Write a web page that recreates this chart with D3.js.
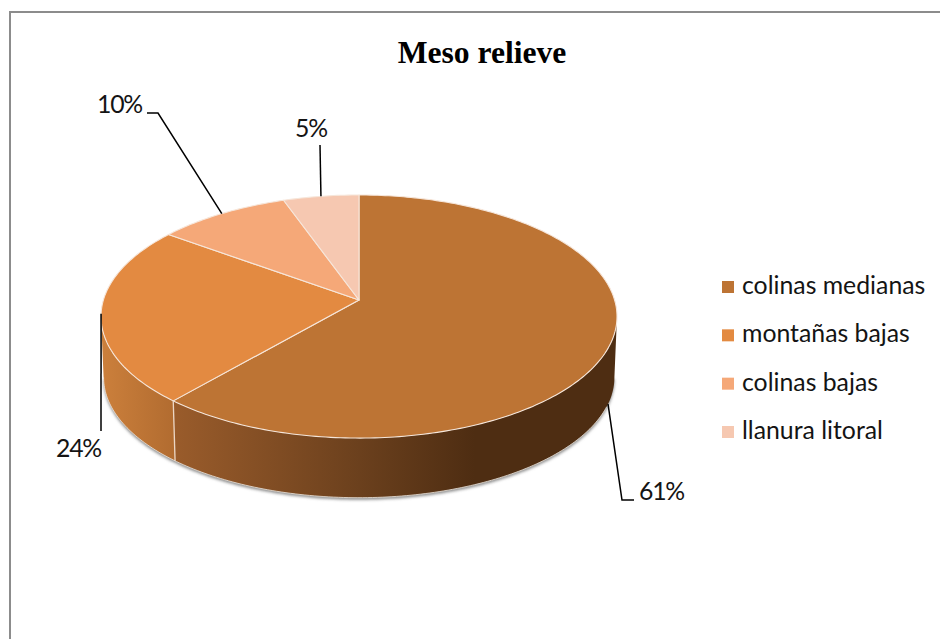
<!DOCTYPE html>
<html>
<head>
    <meta charset="utf-8">
    <script src="https://cdnjs.cloudflare.com/ajax/libs/d3/7.8.5/d3.min.js"></script>
    <style type="text/css">
        html, body { margin: 0; padding: 0; background: white; }
        svg { display: block; }
        .title { font-family: "Liberation Serif"; font-weight: bold; font-size: 31.6px; fill: black; text-anchor: middle; }
        .pct, .legend text { font-family: Lato; font-size: 24.8px; fill: #141414; }
        .pct { letter-spacing: -1.2px; }
        .leader { fill: none; stroke: black; stroke-width: 1.5; }
    </style>
</head>
<body>
    <div id="chart"></div>
    <script type="text/javascript">
        var categories = ["colinas medianas", "montañas bajas", "colinas bajas", "llanura litoral"];
        var values = [61.3, 23.8, 9.5, 5.4];
        var labels = ["61%", "24%", "10%", "5%"];
        var colors = ["#bd7434", "#e38a41", "#f5a878", "#f6c8b1"];

        var width = 940, height = 639;
        var cx = 359;

        // pie is a flat disc seen in perspective, apex sits above the ellipse middle
        var k = 0.136, rx = 255.6, ry = 119.3;
        var topY = 300, baseY = 361, baseScale = 0.99;

        // angles where the disc is widest, the wall is only visible between them
        var wallStart = Math.PI / 2 + Math.asin(k);
        var wallEnd = Math.PI * 1.5 - Math.asin(k);

        function project(a, base) {
            var u = Math.sin(a), v = -Math.cos(a), w = 1 - k * v;
            var s = base ? baseScale : 1;
            return [cx + s * rx * u / w, (base ? baseY : topY) + s * ry * v / w];
        }

        function rim(a0, a1, base) {
            var n = Math.max(2, Math.ceil(Math.abs(a1 - a0) * 60));
            return d3.range(n + 1).map(function (i) {
                return project(a0 + (a1 - a0) * i / n, base);
            });
        }

        var line = d3.line();
        var arcs = d3.pie().sort(null)(values);

        var svg = d3.select("#chart").append("svg")
            .attr("width", width)
            .attr("height", height);

        var defs = svg.append("defs");

        defs.append("filter").attr("id", "soft")
            .attr("x", "-5%").attr("y", "-5%").attr("width", "110%").attr("height", "110%")
            .append("feGaussianBlur").attr("stdDeviation", 1.6);

        function wallGradient(id, stops) {
            var g = defs.append("linearGradient").attr("id", id)
                .attr("gradientUnits", "userSpaceOnUse")
                .attr("x1", 100).attr("x2", 620).attr("y1", 0).attr("y2", 0);
            stops.forEach(function (s) {
                g.append("stop").attr("offset", s[0]).attr("stop-color", s[1]);
            });
        }
        wallGradient("wall0", [[0.14, "#9a5c2b"], [0.5, "#6b401d"], [0.72, "#4e2d12"], [1, "#4e2d12"]]);
        wallGradient("wall1", [[0, "#cc803c"], [0.14, "#b26c30"]]);

        // outer frame, only top and left show in the page
        svg.append("path")
            .attr("d", "M10,639V12H940")
            .attr("fill", "none")
            .attr("stroke", "#8c8c8c")
            .attr("stroke-width", 2);

        // shadow under the wall
        svg.append("path")
            .attr("d", line(rim(wallStart, wallEnd, true).map(function (p) { return [p[0], p[1] + 2]; })) + "Z")
            .attr("fill", "#8a8a8a")
            .attr("filter", "url(#soft)");

        // walls
        var walls = [
            { a0: wallStart, a1: arcs[0].endAngle, fill: "url(#wall0)" },
            { a0: arcs[0].endAngle, a1: wallEnd, fill: "url(#wall1)" }
        ];
        svg.selectAll(".wall")
            .data(walls)
            .enter().append("path")
            .attr("class", "wall")
            .attr("d", function (d) {
                return line(rim(d.a0, d.a1, false).concat(rim(d.a1, d.a0, true))) + "Z";
            })
            .attr("fill", function (d) { return d.fill; });

        // light seam between the two walls and along the wall foot
        svg.append("path")
            .attr("d", line([project(arcs[0].endAngle, false), project(arcs[0].endAngle, true)]))
            .attr("stroke", "#ecd6c4").attr("stroke-width", 1.3).attr("fill", "none");
        svg.append("path")
            .attr("d", line(rim(Math.PI * 0.62, wallEnd, true)))
            .attr("stroke", "#ece4dc").attr("stroke-width", 0.8).attr("fill", "none");

        // top face
        svg.selectAll(".slice")
            .data(arcs)
            .enter().append("path")
            .attr("class", "slice")
            .attr("d", function (d) {
                return line([[cx, topY]].concat(rim(d.startAngle, d.endAngle, false))) + "Z";
            })
            .attr("fill", function (d, i) { return colors[i]; })
            .attr("stroke", "#f6e6da")
            .attr("stroke-width", 1.1)
            .attr("stroke-linejoin", "round");

        // leader lines start on the rim at each slice's middle angle
        var leaders = [
            { base: true, via: [[622, 500], [634, 500]], tx: 639, ty: 500 },
            { base: false, via: [[101, 431]], tx: 56, ty: 457 },
            { base: false, via: [[158, 113], [147, 113]], tx: 97, ty: 113 },
            { base: false, via: [[320, 145]], tx: 295, ty: 137 }
        ];

        svg.selectAll(".leader")
            .data(arcs)
            .enter().append("path")
            .attr("class", "leader")
            .attr("d", function (d, i) {
                var mid = (d.startAngle + d.endAngle) / 2;
                return line([project(mid, leaders[i].base)].concat(leaders[i].via));
            });

        svg.selectAll(".pct")
            .data(labels)
            .enter().append("text")
            .attr("class", "pct")
            .attr("x", function (d, i) { return leaders[i].tx; })
            .attr("y", function (d, i) { return leaders[i].ty; })
            .text(function (d) { return d; });

        svg.append("text")
            .attr("class", "title")
            .attr("x", 482)
            .attr("y", 63)
            .text("Meso relieve");

        var legendY = d3.scalePoint().domain(categories).range([287, 432]);

        var legend = svg.selectAll(".legend")
            .data(categories)
            .enter().append("g")
            .attr("class", "legend")
            .attr("transform", function (d) { return "translate(722," + legendY(d) + ")"; });

        legend.append("rect")
            .attr("x", 0).attr("y", -6)
            .attr("width", 12).attr("height", 12)
            .attr("fill", function (d, i) { return colors[i]; });

        legend.append("text")
            .attr("x", 20)
            .attr("y", 7)
            .text(function (d) { return d; });
    </script>
</body>
</html>
